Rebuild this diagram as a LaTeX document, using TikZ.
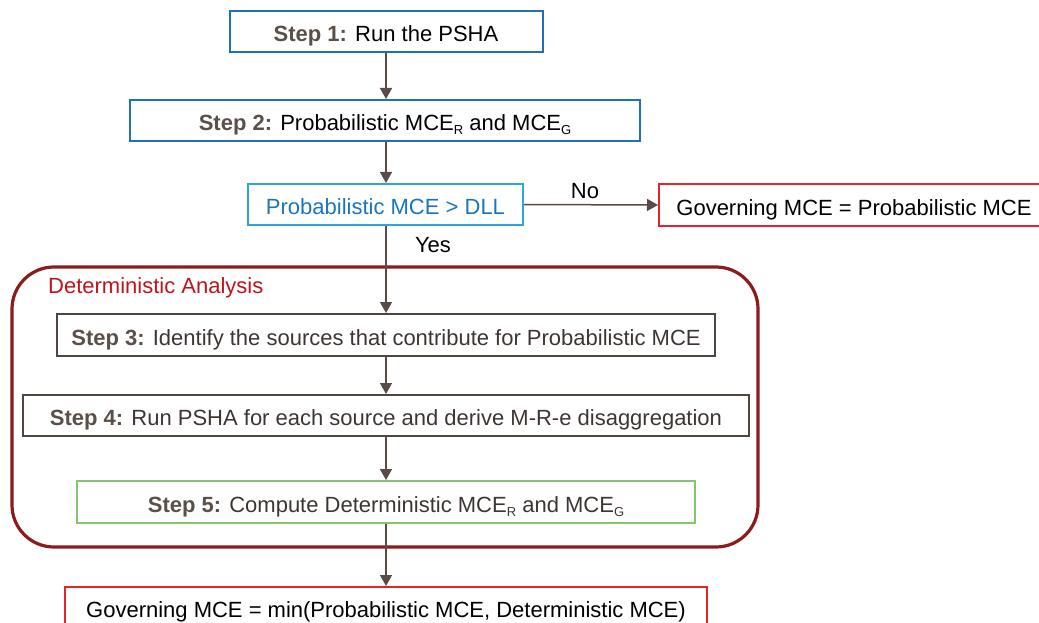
\documentclass[tikz,border=0pt]{standalone}
\usepackage{fontspec}
\setmainfont{Liberation Sans}
\usetikzlibrary{arrows.meta}
\definecolor{bluebox}{HTML}{2070B8}
\definecolor{cyanbox}{HTML}{2DA6DF}
\definecolor{bluetext}{HTML}{1B75BC}
\definecolor{redbox}{HTML}{E3242B}
\definecolor{darkred}{HTML}{8C1B1B}
\definecolor{dettext}{HTML}{C0141C}
\definecolor{graybox}{HTML}{4F4541}
\definecolor{greenbox}{HTML}{85C472}
\definecolor{arrowc}{HTML}{5A4B46}
\definecolor{steplab}{HTML}{5B4F4A}
\definecolor{bodygray}{HTML}{3E3533}
\newcommand{\stp}[1]{\textcolor{steplab}{\bfseries Step #1:}}
\newcommand{\subsc}[1]{\raisebox{-0.35ex}{\fontsize{13}{13}\selectfont #1}}
\begin{document}
\begin{tikzpicture}[x=1pt,y=-1pt,
  box/.style={draw,line width=2pt,inner sep=0pt,align=center,text height=20pt,text depth=0pt,font=\fontsize{22}{26}\selectfont},
  arr/.style={draw=arrowc,line width=1.5pt,-{Triangle[length=11pt,width=12pt]}},
  lab/.style={font=\fontsize{22}{26}\selectfont,inner sep=0pt}]
\useasboundingbox (0,0) rectangle (1039,623);
\clip (0,0) rectangle (1039,623);
% container
\draw[darkred,line width=3.2pt,rounded corners=42pt] (12,267) rectangle (758,547);
\node[lab,text=dettext,anchor=west] (det) at (48,288) {Deterministic Analysis};
% boxes
\node[box,draw=bluebox,minimum width=313pt,minimum height=41pt] (b1) at (386,31.5) {\stp{1} Run the PSHA};
\node[box,draw=bluebox,minimum width=510pt,minimum height=41pt] (b2) at (385,120.5) {\stp{2} Probabilistic MCE\subsc{R} and MCE\subsc{G}};
\node[box,draw=cyanbox,text=bluetext,minimum width=275pt,minimum height=41pt] (dec) at (385.5,204.5) {Probabilistic MCE > DLL};
\node[box,draw=redbox,minimum width=390pt,minimum height=42pt] (nob) at (854,205) {Governing MCE = Probabilistic MCE};
\node[box,draw=graybox,text=bodygray,minimum width=658pt,minimum height=42pt] (s3) at (386,335) {\stp{3} Identify the sources that contribute for Probabilistic MCE};
\node[box,draw=graybox,text=bodygray,minimum width=726pt,minimum height=41pt] (s4) at (386,415.5) {\stp{4} Run PSHA for each source and derive M-R-e disaggregation};
\node[box,draw=greenbox,text=bodygray,minimum width=618pt,minimum height=42pt] (s5) at (386,502) {\stp{5} Compute Deterministic MCE\subsc{R} and MCE\subsc{G}};
\node[box,draw=redbox,minimum width=642pt,minimum height=40pt] (fin) at (386,607) {Governing MCE = min(Probabilistic MCE, Deterministic MCE)};
% axis coordinate
\coordinate (ax) at (386,0);
% arrows
\draw[arr] (b1.south -| ax) -- (b2.north -| ax);
\draw[arr] (b2.south -| ax) -- (dec.north -| ax);
\draw[arr] (dec.south -| ax) -- (s3.north -| ax);
\draw[arr] (s3.south -| ax) -- (s4.north -| ax);
\draw[arr] (s4.south -| ax) -- (s5.north -| ax);
\draw[arr] (s5.south -| ax) -- (fin.north -| ax);
\draw[arr] (dec.east) -- (nob.west);
\node[lab] (no) at (585,191) {No};
\node[lab] (yes) at (433,245) {Yes};
\end{tikzpicture}
\end{document}
